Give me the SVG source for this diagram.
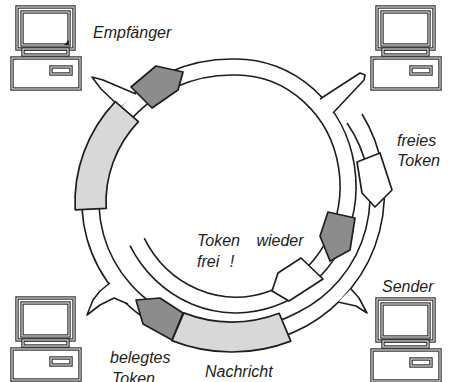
<svg xmlns="http://www.w3.org/2000/svg" width="451" height="382" viewBox="0 0 451 382">
  <style>
    .ln { fill: none; stroke: #1e1e1e; stroke-width: 1.6; stroke-linejoin: round; }
    .spike { fill: #ffffff; stroke: #1e1e1e; stroke-width: 1.6; stroke-linejoin: round; }
    .dark { fill: #8c8c8c; stroke: #1e1e1e; stroke-width: 1.7; stroke-linejoin: round; }
    .light { fill: #d8d8d8; stroke: #1e1e1e; stroke-width: 1.7; stroke-linejoin: round; }
    .white { fill: #ffffff; stroke: #1e1e1e; stroke-width: 1.7; stroke-linejoin: round; }
    .dbl { fill: none; stroke: #2a2a2a; stroke-width: 3.4; }
    .gap { fill: none; stroke: #ffffff; stroke-width: 1; }
    .lbl { font-family: "Liberation Sans", Arial, sans-serif; font-style: italic; font-size: 16px; fill: #222222; }
  </style>
  <defs>
    <!-- workstation: monitor on a desktop case, drawn with double outlines -->
    <g id="pc">
      <rect class="dbl" x="5" y="0" width="57" height="42"/>
      <rect class="gap" x="5" y="0" width="57" height="42"/>
      <rect class="dbl" x="10" y="5" width="47" height="33"/>
      <rect class="gap" x="10" y="5" width="47" height="33"/>
      <rect class="dbl" x="11" y="42" width="45" height="6"/>
      <rect class="gap" x="11" y="42" width="45" height="6"/>
      <rect class="dbl" x="0" y="51" width="68" height="31"/>
      <rect class="gap" x="0" y="51" width="68" height="31"/>
      <rect class="dbl" x="39" y="60" width="20" height="7"/>
      <rect class="gap" x="39" y="60" width="20" height="7"/>
    </g>
  </defs>

  <rect width="451" height="382" fill="#ffffff"/>

  <!-- ring cable drawn as a spiral (a bit more than one turn), then the station taps -->
  <g id="connectors">
    <path class="ln" d="M362,114 A152,152 0 0 1 307,325.8 A150,143 0 1 1 232,59 L236,59 A120,127 0 1 1 130,245.6"/>
    <path class="ln" d="M347,123 A129,129 0 0 1 298.5,312 A133,127 0 1 1 232,75 L236,75 A104,111 0 1 1 144.2,238.1"/>
    <path class="spike" d="M120,107 L101,89 L92,77 L103,80 L136,94"/>
    <path class="spike" d="M320,99 L360,73 L365,75 L364,80 L333,113"/>
    <path class="spike" d="M110,283 L100,291 L93,300 L87,315 L100,305 L114,298 L128,304"/>
    <path class="spike" d="M351,289 L359,298 L367,313 L356,306 L338,302"/>
  </g>

  <g id="station-empfaenger">
    <use href="#pc" x="12" y="7"/>
    <path d="M64,45 L69,45 L69,40 Z" fill="#1e1e1e"/>
    <text class="lbl" x="93" y="38">Empfänger</text>
  </g>
  <g id="station-top-right">
    <use href="#pc" x="372" y="7"/>
  </g>
  <g id="station-bottom-left">
    <use href="#pc" x="12" y="298"/>
  </g>
  <g id="station-sender">
    <use href="#pc" x="372" y="299"/>
    <text class="lbl" x="382" y="292">Sender</text>
  </g>

  <!-- message frame on the left -->
  <g id="nachricht-left">
    <path class="light" d="M75.2,209.8 A157,150 0 0 1 115.3,101.6 L138.4,121.7 A126,120 0 0 0 106.2,208.3 Z"/>
  </g>
  <!-- message frame at the bottom -->
  <g id="nachricht-bottom">
    <path class="light" d="M290.8,341.1 A157,150 0 0 1 171.9,340.6 L183.8,312.9 A126,120 0 0 0 279.2,313.3 Z"/>
    <text class="lbl" x="205" y="377">Nachricht</text>
  </g>

  <g id="token-empfaenger">
    <path class="dark" d="M131,87 L156,66 L183,72 L178,90 L152,108 Z"/>
  </g>
  <g id="token-belegt">
    <path class="dark" d="M136,300 L160,298 L183,313 L172,340 L143,324 Z"/>
    <text class="lbl" x="110" y="363">belegtes</text>
    <text class="lbl" x="112" y="384">Token</text>
  </g>
  <g id="token-frei">
    <path class="white" d="M357,162 L380,153 L392,190 L375,207 L362,193 Z"/>
    <text class="lbl" x="397" y="146">freies</text>
    <text class="lbl" x="397" y="166">Token</text>
  </g>
  <g id="token-released">
    <path class="dark" d="M328,212 L355,218 L350,250 L330,261 L320,236 Z"/>
    <path class="white" d="M301,258 L323,279 L289,301 L272,291 L278,273 Z"/>
    <text class="lbl" x="197" y="246" word-spacing="12">Token wieder</text>
    <text class="lbl" x="197" y="267" word-spacing="6">frei !</text>
  </g>
</svg>
